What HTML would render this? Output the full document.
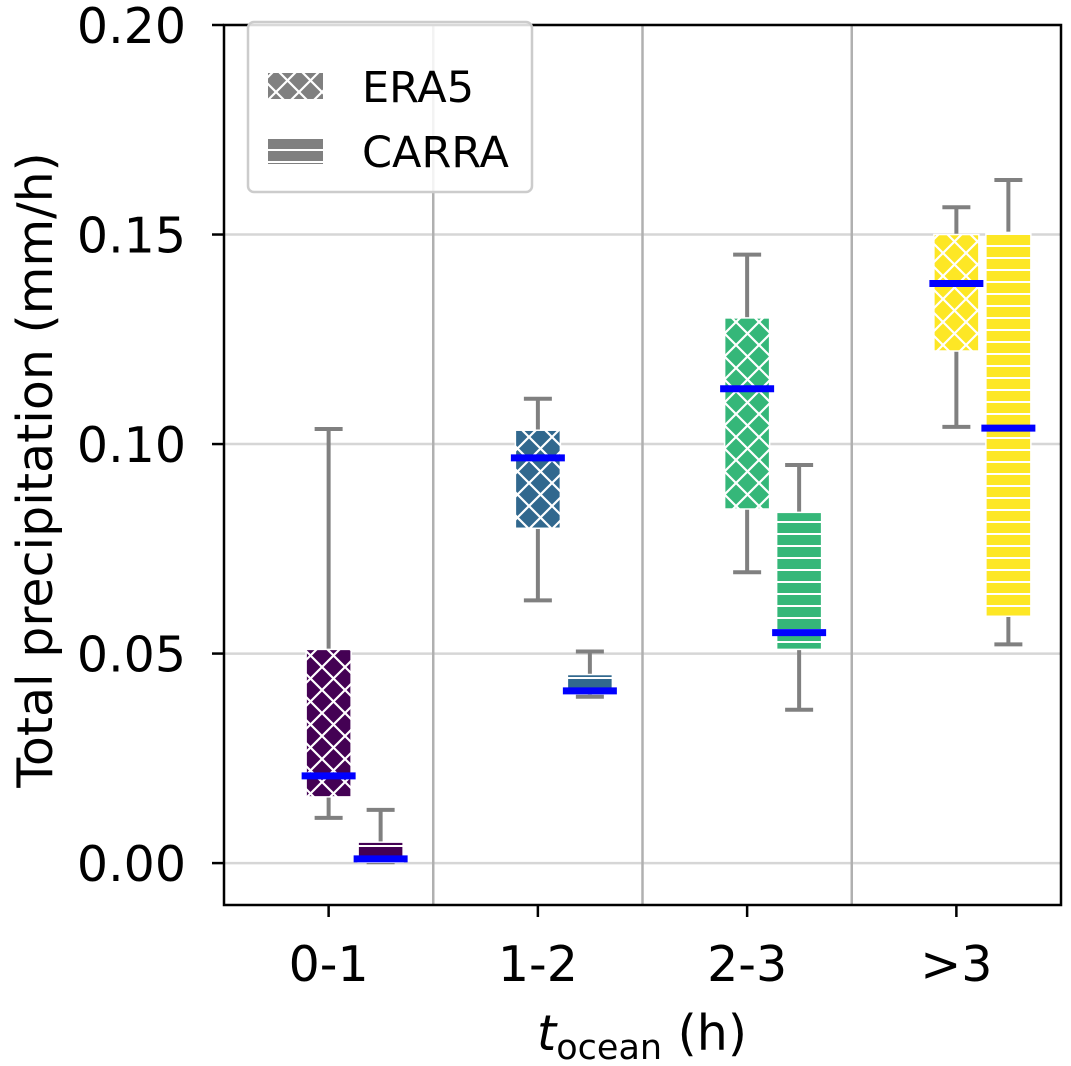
<!DOCTYPE html>
<html><head><meta charset="utf-8"><style>
body{margin:0;background:#fff;}
svg{display:block;font-family:"DejaVu Sans","Liberation Sans",sans-serif;}
</style></head><body>
<svg id="chart" width="1071" height="1066" viewBox="0 0 1071 1066">
<defs>
<pattern id="hx" patternUnits="userSpaceOnUse" width="23" height="23">
<path d="M0,0L23,23M23,0L0,23M-2,2L2,-2M21,25L25,21M-2,21L2,25M21,-2L25,2" stroke="#fff" stroke-width="2.2"/>
</pattern>
<pattern id="hh" patternUnits="userSpaceOnUse" width="23" height="12">
<path d="M0,6H23" stroke="#fff" stroke-width="2"/>
</pattern>
</defs>
<g id="grid"></g>
<g id="marks"></g>
<rect x="224" y="25" width="837" height="880" fill="none" stroke="#000" stroke-width="2.5"/>
<g id="axes"></g>
<text x="52" y="470" transform="rotate(-90 52 470)" font-size="49" text-anchor="middle">Total precipitation (mm/h)</text>
<text x="642" y="1050" font-size="49" text-anchor="middle"><tspan font-style="italic">t</tspan><tspan font-size="35" dy="9">ocean</tspan><tspan dy="-9"> (h)</tspan></text>
<g>
<rect x="248" y="22" width="284" height="170" rx="6" fill="#fff" fill-opacity="0.85" stroke="#ccc" stroke-width="2.5"/>
<rect x="268" y="73" width="55" height="26" fill="#808080"/>
<rect x="268" y="73" width="55" height="26" fill="url(#hx)"/>
<text x="362" y="102" font-size="43">ERA5</text>
<rect x="268" y="138" width="55" height="26" fill="#808080"/>
<rect x="268" y="138" width="55" height="26" fill="url(#hh)"/>
<text x="362" y="167" font-size="43">CARRA</text>
</g>
</svg>
<script>
const categories=["0-1","1-2","2-3",">3"];
const colors=["#440154","#31688e","#35b779","#fde725"];
const yTicks=[0,0.05,0.10,0.15,0.20];
const yTickLabels=["0.00","0.05","0.10","0.15","0.20"];
// [whiskerLow, q1, median, q3, whiskerHigh]
const era5Stats=[[0.0108,0.0158,0.0208,0.0510,0.1036],[0.0627,0.0799,0.0967,0.1033,0.1108],[0.0694,0.0845,0.1132,0.1301,0.1452],[0.1041,0.1222,0.1383,0.1500,0.1565]];
const carraStats=[[0.0002,0.0002,0.0010,0.0050,0.0127],[0.0397,0.0404,0.0411,0.0450,0.0505],[0.0366,0.0510,0.0550,0.0837,0.0950],[0.0522,0.0589,0.1038,0.1505,0.1630]];
const X0=224,X1=1061,Y0=905,Y1=25,ymin=-0.01,ymax=0.20;
const xs=i=>X0+(i+0.5)/categories.length*(X1-X0);
const ys=v=>Y0-(v-ymin)/(ymax-ymin)*(Y0-Y1);
const NS="http://www.w3.org/2000/svg";
function mk(t,a,p){const e=document.createElementNS(NS,t);for(const k in a)e.setAttribute(k,a[k]);p.appendChild(e);return e;}
const grid=document.getElementById('grid'),marks=document.getElementById('marks'),axes=document.getElementById('axes');
yTicks.forEach((v,i)=>{
 const g=mk('line',{x1:X0,x2:X1,y1:ys(v),y2:ys(v),stroke:'#d6d6d6','stroke-width':2.5},grid);
 
 
 mk('line',{x1:X0-12,x2:X0,y1:ys(v),y2:ys(v),stroke:'#000','stroke-width':2.5},axes);
 const t=mk('text',{x:X0-38,y:ys(v)+18,'font-size':49,'text-anchor':'end'},axes);
 t.textContent=yTickLabels[i];
 
 
});
for(let i=1;i<categories.length;i++){
 const xb=(xs(i-1)+xs(i))/2;
 const g=mk('line',{x1:xb,x2:xb,y1:Y1,y2:Y0,stroke:'#b0b0b0','stroke-width':2.5},grid);
 
 
}
categories.forEach((c,i)=>{
 mk('line',{x1:xs(i),x2:xs(i),y1:Y0,y2:Y0+12,stroke:'#000','stroke-width':2.5},axes);
 const t=mk('text',{x:xs(i),y:Y0+76,'font-size':49,'text-anchor':'middle'},axes);
 t.textContent=c;
 
 
});
function box(st,cx,col,pat,name){
 const g=mk('g',{},marks);
 
 
 const w=45,cw=28;
 mk('line',{x1:cx,x2:cx,y1:ys(st[4]),y2:ys(st[3]),stroke:'#808080','stroke-width':4},g);
 mk('line',{x1:cx,x2:cx,y1:ys(st[1]),y2:ys(st[0]),stroke:'#808080','stroke-width':4},g);
 mk('line',{x1:cx-cw/2,x2:cx+cw/2,y1:ys(st[4]),y2:ys(st[4]),stroke:'#808080','stroke-width':4},g);
 mk('line',{x1:cx-cw/2,x2:cx+cw/2,y1:ys(st[0]),y2:ys(st[0]),stroke:'#808080','stroke-width':4},g);
 const h=Math.max(ys(st[1])-ys(st[3]),0.5);
 mk('rect',{x:cx-w/2,y:ys(st[3]),width:w,height:h,fill:col,stroke:'#fff','stroke-width':1.5},g);
 mk('rect',{x:cx-w/2,y:ys(st[3]),width:w,height:h,fill:'url(#'+pat+')'},g);
 mk('line',{x1:cx-27,x2:cx+27,y1:ys(st[2]),y2:ys(st[2]),stroke:'#0000ff','stroke-width':7},g);
}
categories.forEach((c,i)=>{
 box(era5Stats[i],xs(i),colors[i],'hx','era5-box-'+c);
 box(carraStats[i],xs(i)+52,colors[i],'hh','carra-box-'+c);
});
</script>
</body></html>
